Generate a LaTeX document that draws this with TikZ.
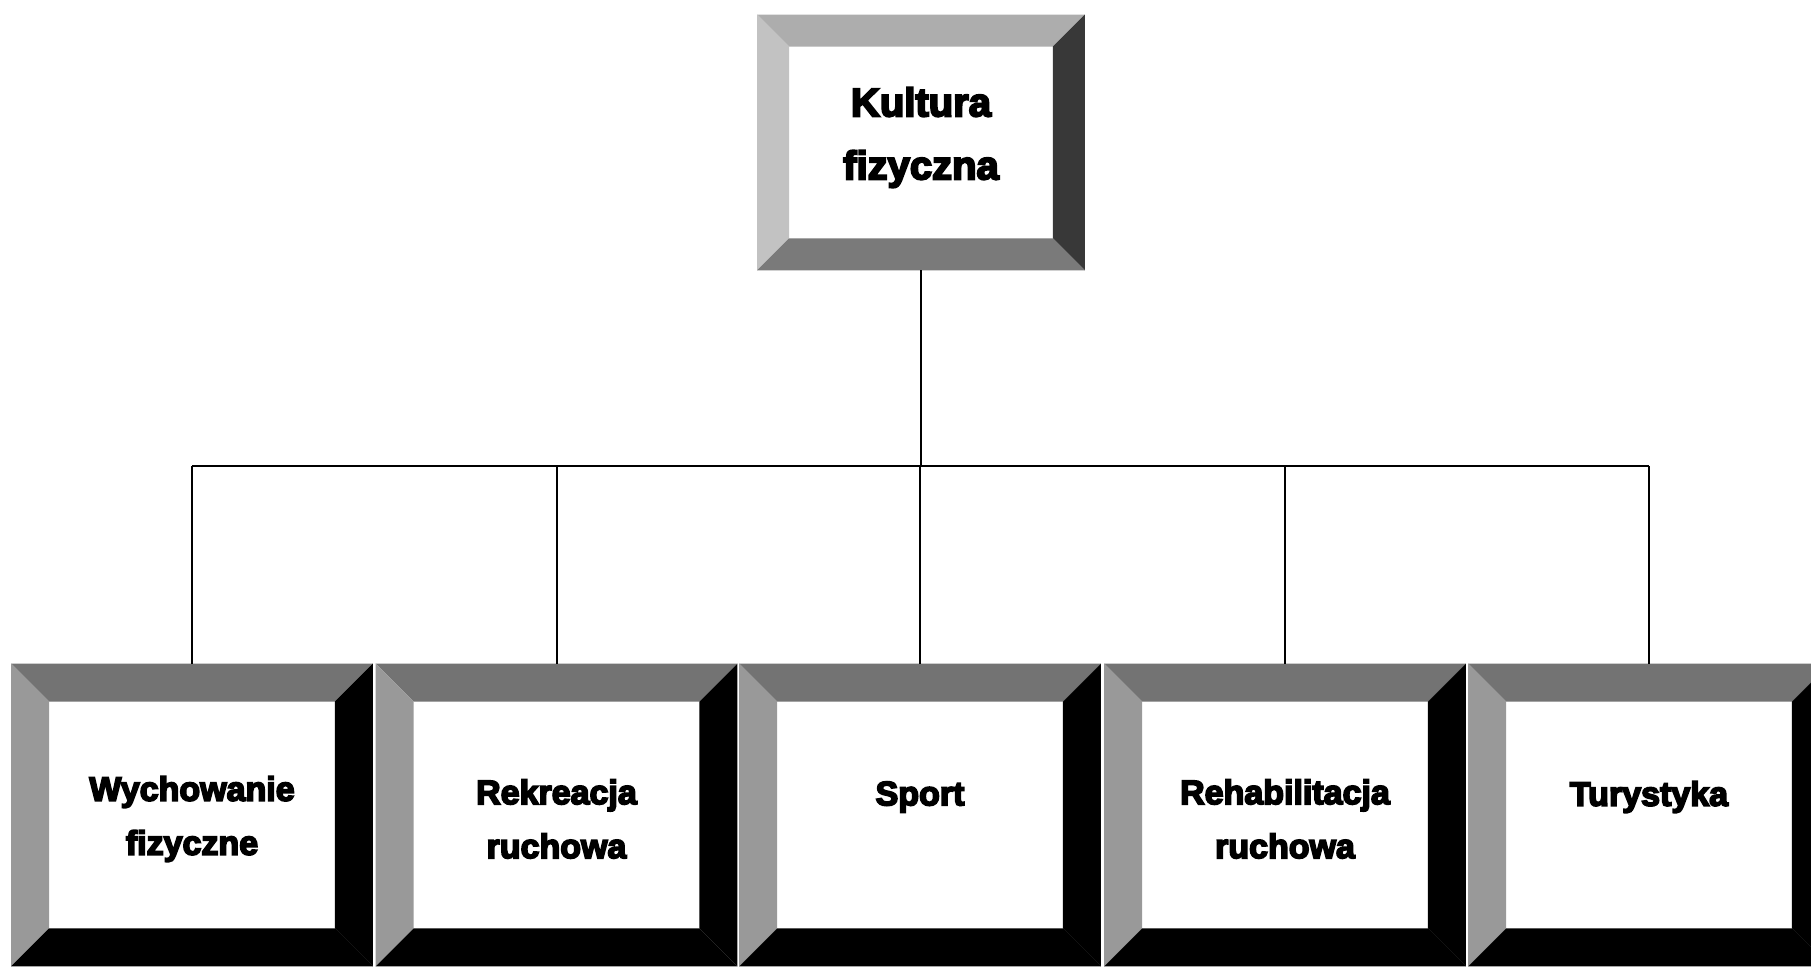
\documentclass[tikz,border=0pt]{standalone}
\usepackage{fontspec}
\newfontfamily\labfont{Liberation Sans}[BoldFeatures={FakeBold=5}]
\usetikzlibrary{calc}
\tikzset{
  face/.style={draw=none, fill=white, inner sep=0pt},
  outerbox/.style={draw=none, inner sep=0pt},
  lbl/.style={align=center, inner sep=0pt, lblsize},
  lblsize/.style={font=\labfont\bfseries},
  conn/.style={draw=black, line width=1pt},
}
% #1 name, #2 x, #3 y, #4 inner w (px), #5 inner h (px), #6 bevel (px), #7 text, #8 text shift (px)
\newcommand{\bevelbox}[8]{%
  \node[face, minimum width=#4*0.5pt, minimum height=#5*0.5pt] (#1i) at (#2,#3) {};
  \node[outerbox, minimum width=#4*0.5pt+2*#6*0.5pt, minimum height=#5*0.5pt+2*#6*0.5pt] (#1) at (#2,#3) {};
  \fill[bvT] ($(#1i.north west)+(-#6,#6)$) -- ($(#1i.north east)+(#6,#6)$) -- (#1i.north east) -- (#1i.north west) -- cycle;
  \fill[bvL] ($(#1i.north west)+(-#6,#6)$) -- (#1i.north west) -- (#1i.south west) -- ($(#1i.south west)+(-#6,-#6)$) -- cycle;
  \fill[bvR] ($(#1i.north east)+(#6,#6)$) -- ($(#1i.south east)+(#6,-#6)$) -- (#1i.south east) -- (#1i.north east) -- cycle;
  \fill[bvB] ($(#1i.south west)+(-#6,-#6)$) -- (#1i.south west) -- (#1i.south east) -- ($(#1i.south east)+(#6,-#6)$) -- cycle;
  \node[lbl] (#1t) at ($(#1i.center)+(0,#8)$) {#7};
}
\begin{document}
\begin{tikzpicture}[x=0.5pt,y=0.5pt]
\useasboundingbox (0,0) rectangle (1811,969);
\clip (0,0) rectangle (1811,969);
\fill[white] (0,0) rectangle (1811,969);

% top box
\colorlet{bvT}{black!32}
\colorlet{bvL}{black!24}
\colorlet{bvR}{black!78}
\colorlet{bvB}{black!52}
\tikzset{lblsize/.style={font=\labfont\bfseries\fontsize{20}{31.5}\selectfont}}
\bevelbox{k}{921}{826.5}{263}{191}{32}{Kultura\\ fizyczna}{5}

% bottom boxes
\colorlet{bvT}{black!55}
\colorlet{bvL}{black!40}
\colorlet{bvR}{black}
\colorlet{bvB}{black}
\tikzset{lblsize/.style={font=\labfont\bfseries\fontsize{17}{27}\selectfont}}
\bevelbox{b1}{192}{154}{285}{226}{38}{Wychowanie\\ fizyczne}{-4}
\bevelbox{b2}{556.5}{154}{285}{226}{38}{Rekreacja\\ ruchowa}{-4}
\bevelbox{b3}{920}{154}{285}{226}{38}{Sport}{18}
\bevelbox{b4}{1285}{154}{285}{226}{38}{Rehabilitacja\\ ruchowa}{-4}
\bevelbox{b5}{1649}{154}{285}{226}{38}{Turystyka}{18}

% connectors
\coordinate (bar) at (920,503);
\draw[conn] (k.south) -- (k.south |- bar);
\draw[conn] (b1.north |- bar) -- (b5.north |- bar);
\foreach \n in {b1,b2,b3,b4,b5}{
  \draw[conn] (\n.north |- bar) -- (\n.north);
}
\end{tikzpicture}
\end{document}
